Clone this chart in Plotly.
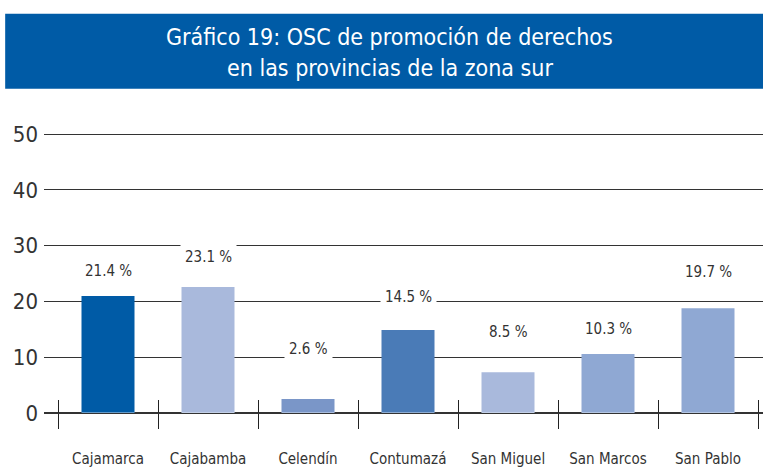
import plotly.graph_objects as go

categories = ["Cajamarca", "Cajabamba", "Celendín", "Contumazá", "San Miguel", "San Marcos", "San Pablo"]
bar_values = [21.0, 22.6, 2.5, 14.9, 7.3, 10.6, 18.8]
label_texts = ["21.4 %", "23.1 %", "2.6 %", "14.5 %", "8.5 %", "10.3 %", "19.7 %"]
label_lift = [4.5, 5.4, 9.0, 5.9, 7.2, 4.4, 6.5]
bar_colors = ["#005BA6", "#A9B9DC", "#7A96C8", "#4A7BB7", "#A9B9DC", "#8FA8D3", "#8FA8D3"]
y_ticks = [0, 10, 20, 30, 40, 50]
title_lines = ["Gráfico 19: OSC de promoción de derechos", "en las provincias de la zona sur"]

FONT = "DejaVu Sans Condensed, sans-serif"
TXT = "#333333"

fig = go.Figure()
fig.add_trace(go.Bar(
    x=categories, y=bar_values, marker=dict(color=bar_colors, line=dict(width=0)),
    width=0.53, showlegend=False, hoverinfo="skip",
))
# invisible trace on second x axis (for inside ticks)
fig.add_trace(go.Bar(x=categories, y=[0]*len(categories), xaxis="x2", showlegend=False,
                     hoverinfo="skip", marker=dict(color="rgba(0,0,0,0)")))

for c, v, t, d in zip(categories, bar_values, label_texts, label_lift):
    fig.add_annotation(x=c, y=v + d, text=t, showarrow=False, bgcolor="white",
                       font=dict(family=FONT, size=15, color=TXT), borderpad=4)

fig.update_layout(
    width=763, height=467,
    margin=dict(l=44, r=0, t=123, b=54, autoexpand=False),
    plot_bgcolor="white", paper_bgcolor="white",
    bargap=0.47,
    xaxis=dict(
        range=[-0.64, 6.55], tickson="boundaries", ticks="outside", ticklen=15,
        tickwidth=1.3, tickcolor="#222222", showgrid=False, zeroline=False,
        showline=False, tickfont=dict(family=FONT, size=15, color=TXT),
        ticklabelstandoff=35, automargin=False,
    ),
    xaxis2=dict(
        range=[-0.64, 6.55], overlaying="x", side="bottom", anchor="y",
        tickson="boundaries", ticks="inside", ticklen=13, tickwidth=1.3,
        tickcolor="#222222", showticklabels=False, showgrid=False,
        zeroline=False, showline=False, automargin=False,
    ),
    yaxis=dict(
        range=[0, 52], tickvals=y_ticks, showgrid=True, gridcolor="#333333",
        gridwidth=1.4, zeroline=True, zerolinecolor="#333333", zerolinewidth=1.6,
        tickfont=dict(family=FONT, size=22, color=TXT), ticks="", ticklabelstandoff=5,
        showline=False, automargin=False,
    ),
    shapes=[dict(type="rect", xref="paper", yref="paper", x0=-0.054, x1=1.0,
                 y0=1.118, y1=1.377, fillcolor="#005BA6", line=dict(width=0), layer="below")],
)
for line, ypos in zip(title_lines, [1.2966, 1.1897]):
    fig.add_annotation(
        xref="paper", yref="paper", x=0.481, y=ypos, xanchor="center", yanchor="middle",
        showarrow=False, text=line,
        font=dict(family=FONT, size=23, color="white"),
    )

fig.write_html("out.html", config={"displayModeBar": False},
               post_script="document.body.style.margin='0';")
